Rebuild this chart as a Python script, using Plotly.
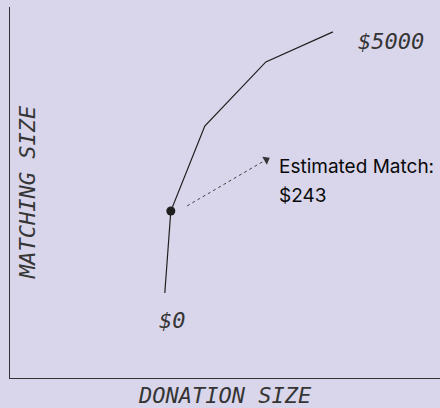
import plotly.graph_objects as go

# Conceptual matching curve (abstract 0-100 units on both axes)
donation = [36.0, 37.4, 45.3, 59.5, 75.1]
matching = [22.9, 45.0, 67.9, 85.2, 93.3]
end_labels = ["$0", "$5000"]
estimate_index = 1
estimate_text = ["Estimated Match:", "$243"]
x_title = "DONATION SIZE"
y_title = "MATCHING SIZE"

BG = "#D9D5EA"
INK = "#1f1f1f"
MONO = dict(family="DejaVu Sans Mono, monospace", size=22,
            color="#353535", style="italic", weight=300)
SANS = dict(family="Inter, Roboto, sans-serif", size=19, color="#0a0a0a")

fig = go.Figure()

fig.add_trace(go.Scatter(
    x=donation, y=matching, mode="lines",
    line=dict(color=INK, width=1.2), hoverinfo="skip", showlegend=False))

fig.add_trace(go.Scatter(
    x=[donation[estimate_index]], y=[matching[estimate_index]], mode="markers",
    marker=dict(color=INK, size=9), hoverinfo="skip", showlegend=False))

# Dotted pointer from the estimate toward its label
tail = (41.2, 46.4)
head = (59.6, 58.8)
fig.add_trace(go.Scatter(
    x=[tail[0], head[0] - 0.9], y=[tail[1], head[1] - 0.55], mode="lines",
    line=dict(color="#444444", width=1, dash="dot"),
    hoverinfo="skip", showlegend=False))
fig.add_trace(go.Scatter(
    x=[head[0]], y=[head[1]], mode="markers",
    marker=dict(symbol="triangle-up", size=8, angle=60, color="#333333"),
    hoverinfo="skip", showlegend=False))

# Endpoint labels
fig.add_annotation(x=37.7, y=15.4, text=end_labels[0], showarrow=False,
                   font=MONO, xanchor="center", yanchor="middle")
fig.add_annotation(x=88.5, y=90.6, text=end_labels[1], showarrow=False,
                   font=MONO, xanchor="center", yanchor="middle")

# Estimate label
fig.add_annotation(x=62.1, y=57.1, text=estimate_text[0], showarrow=False,
                   font=SANS, xanchor="left", yanchor="middle")
fig.add_annotation(x=62.1, y=49.1, text=estimate_text[1], showarrow=False,
                   font=SANS, xanchor="left", yanchor="middle")

# Axis titles
fig.add_annotation(x=0.5, y=-17 / 371, xref="paper", yref="paper",
                   text=x_title, showarrow=False, font=MONO,
                   xanchor="center", yanchor="middle")
fig.add_annotation(x=17.5 / 430, y=0.5, xref="paper", yref="paper",
                   text=y_title, showarrow=False, font=MONO, textangle=-90,
                   xanchor="center", yanchor="middle")

axis_common = dict(showgrid=False, zeroline=False, showticklabels=False,
                   ticks="", showline=True, linecolor="#333333", linewidth=1.2,
                   fixedrange=True)
fig.update_xaxes(range=[0, 100], **axis_common)
fig.update_yaxes(range=[0, 100], **axis_common)

fig.update_layout(
    width=440, height=408,
    margin=dict(l=10, r=0, t=7, b=30),
    paper_bgcolor=BG, plot_bgcolor=BG,
    showlegend=False,
)

fig.write_html("out.html", config={"displayModeBar": False})
